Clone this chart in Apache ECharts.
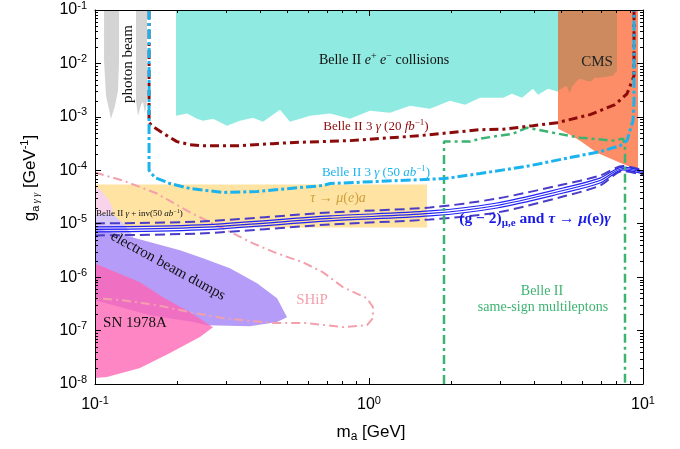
<!DOCTYPE html>
<html>
<head>
<meta charset="utf-8">
<script src="https://cdn.jsdelivr.net/npm/echarts@6/dist/echarts.min.js"></script>
<style>
  html, body { margin: 0; padding: 0; background: #fff; }
  #chart { width: 680px; height: 449px; }
</style>
</head>
<body>
<div id="chart"></div>
<script>
// m_a in GeV, g_agg in GeV^-1
var photonBeamA = [[0.1079, 0.1], [0.1079, 1.12e-2], [0.1097, 2.48e-3], [0.1144, 9.2e-4], [0.1183, 1.61e-3], [0.1213, 3.08e-3], [0.1224, 1.12e-2], [0.1224, 0.1]];
var photonBeamB = [[0.1411, 0.1], [0.1411, 2.0e-3], [0.1435, 1.05e-3], [0.1472, 1.69e-3], [0.1497, 1.92e-3], [0.1522, 1.15e-3], [0.1548, 2.0e-3], [0.1548, 0.1]];
var belleEE = [[0.1975, 0.1], [0.1975, 1.05e-3], [0.2167, 1.15e-3], [0.2357, 9.23e-4], [0.2479, 8.47e-4], [0.2696, 9.23e-4], [0.3032, 6.84e-4], [0.3381, 8.47e-4], [0.3773, 9.64e-4], [0.4104, 8.11e-4], [0.4734, 1.36e-3], [0.5148, 8.11e-4], [0.6091, 1.05e-3], [0.7209, 1.15e-3], [0.8525, 9.23e-4], [1.008, 1.30e-3], [1.193, 1.19e-3], [1.411, 1.61e-3], [1.669, 1.42e-3], [1.975, 2.0e-3], [2.241, 1.69e-3], [2.542, 2.28e-3], [3.084, 2.28e-3], [3.325, 2.70e-3], [3.617, 2.28e-3], [3.967, 3.35e-3], [4.139, 2.59e-3], [4.502, 3.35e-3], [4.896, 2.95e-3], [4.896, 0.1]];
var cms = [[4.896, 0.1], [4.896, 3.08e-3], [5.105, 3.50e-3], [5.28, 3.81e-3], [5.326, 3.21e-3], [5.415, 2.82e-3], [5.506, 3.65e-3], [5.742, 4.73e-3], [5.89, 5.15e-3], [6.407, 4.53e-3], [6.68, 5.38e-3], [6.967, 5.38e-3], [7.773, 5.86e-3], [8.037, 7.27e-3], [8.037, 0.1]];
var salmon = [[4.896, 0.1], [4.896, 6.01e-4], [5.415, 4.64e-4], [5.89, 3.59e-4], [6.794, 2.14e-4], [8.245, 1.39e-4], [9.12, 1.12e-4], [9.59, 1.0e-4], [9.59, 0.1]];
var tauMuA = [[0.1, 5.41e-5], [1.628, 5.41e-5], [1.628, 8.53e-6], [0.1, 8.53e-6]];
var belleInvPink = [[0.1, 4.97e-5], [0.1052, 4.18e-5], [0.1115, 2.96e-5], [0.1163, 1.93e-5], [0.1163, 1.49e-5], [0.1, 1.49e-5]];
var belleInvLav = [[0.1, 1.49e-5], [0.1163, 1.49e-5], [0.1255, 1.06e-5], [0.1376, 6.04e-6], [0.1376, 4.88e-6], [0.1, 4.88e-6]];
var beamDump = [[0.1, 8.16e-6], [0.1376, 5.54e-6], [0.2042, 3.17e-6], [0.2479, 2.25e-6], [0.3108, 1.46e-6], [0.3903, 7.68e-7], [0.4617, 4.03e-7], [0.5023, 1.78e-7], [0.4617, 1.44e-7], [0.3679, 1.21e-7], [0.2562, 1.26e-7], [0.2278, 1.44e-7], [0.1588, 1.94e-7], [0.1, 3.70e-7]];
var sn = [[0.1, 1.81e-6], [0.146, 8.01e-7], [0.177, 4.21e-7], [0.2222, 2.21e-7], [0.2696, 1.16e-7], [0.2416, 7.54e-8], [0.1878, 3.79e-8], [0.146, 1.99e-8], [0.1106, 1.35e-8], [0.1, 1.29e-8]];
var ship = [[0.1, 9.06e-5], [0.1265, 6.43e-5], [0.1684, 3.67e-5], [0.2222, 1.624e-5], [0.2933, 8.16e-6], [0.3773, 4.28e-6], [0.4617, 2.79e-6], [0.5741, 1.89e-6], [0.6795, 1.23e-6], [0.804, 6.46e-7], [0.9833, 4.03e-7], [1.034, 2.74e-7], [1.034, 1.71e-7], [0.9833, 1.26e-7], [0.804, 1.16e-7], [0.5939, 1.38e-7], [0.4463, 1.38e-7], [0.2933, 1.71e-7], [0.2222, 2.21e-7], [0.1684, 2.98e-7], [0.1265, 3.70e-7], [0.1, 4.03e-7]];
var belle3g20 = [[0.1575, 0.1], [0.1575, 7.78e-4], [0.1628, 6.55e-4], [0.1831, 4.45e-4], [0.1991, 3.44e-4], [0.2222, 3.02e-4], [0.2416, 2.89e-4], [0.3381, 2.89e-4], [0.4463, 3.15e-4], [0.5148, 3.29e-4], [0.8525, 3.59e-4], [1.535, 4.45e-4], [2.542, 5.75e-4], [3.084, 5.88e-4], [3.967, 6.84e-4], [4.855, 7.78e-4], [6.407, 1.10e-3], [7.905, 1.69e-3], [8.742, 2.70e-3], [9.273, 5.86e-3], [9.273, 0.1]];
var belle3g50 = [[0.1575, 0.1], [0.1575, 9.89e-5], [0.1656, 7.31e-5], [0.1878, 5.65e-5], [0.2222, 4.56e-5], [0.2933, 3.84e-5], [0.3903, 4.01e-5], [0.5148, 4.56e-5], [0.6795, 5.19e-5], [0.7209, 5.65e-5], [1.894, 7.00e-5], [2.542, 8.69e-5], [3.869, 1.22e-4], [5.415, 1.73e-4], [6.967, 2.23e-4], [8.245, 2.89e-4], [8.742, 3.59e-4], [9.193, 8.47e-4], [9.273, 2.0e-3], [9.273, 0.1]];
var sameSign = [[1.878, 1e-8], [1.878, 3.44e-4], [2.336, 3.44e-4], [2.542, 3.91e-4], [3.354, 4.84e-4], [3.773, 6.27e-4], [4.896, 4.84e-4], [5.89, 4.08e-4], [7.773, 3.59e-4], [8.453, 3.91e-4], [8.596, 2.89e-4], [8.596, 1e-8]];
// (g-2) and tau -> mu gamma band: five curves on a shared mass grid
var g2Mass = [0.1, 0.2416, 0.7209, 1.669, 2.932, 5.105, 6.967, 8.453, 10];
var g2Top = [1.012e-5, 1.103e-5, 1.624e-5, 2.012e-5, 2.963e-5, 5.41e-5, 7.96e-5, 1.20e-4, 1.0e-4];
var g2Upper = [8.71e-6, 9.49e-6, 1.397e-5, 1.732e-5, 2.443e-5, 4.654e-5, 7.15e-5, 1.15e-4, 9.6e-5];
var g2Mid = [7.82e-6, 8.52e-6, 1.255e-5, 1.555e-5, 2.194e-5, 4.18e-5, 6.43e-5, 1.08e-4, 9.1e-5];
var g2Lower = [7.02e-6, 7.65e-6, 1.127e-5, 1.397e-5, 1.971e-5, 3.755e-5, 5.77e-5, 1.02e-4, 8.6e-5];
var g2Bot = [6.04e-6, 6.58e-6, 9.69e-6, 1.202e-5, 1.624e-5, 3.23e-5, 5.18e-5, 9.7e-5, 8.2e-5];
var xRange = [0.1, 10];
var yRange = [1e-8, 0.1];
var minorMantissa = [2, 3, 4, 5, 6, 7, 8, 9];
var xDecades = [0.1, 1];
var yDecades = [1e-8, 1e-7, 1e-6, 1e-5, 1e-4, 1e-3, 1e-2];

var SERIF = 'Liberation Serif';
var SANS = 'Liberation Sans';

function zip(xs, ys) {
  return xs.map(function (x, i) { return [x, ys[i]]; });
}

function area(data, fill, z) {
  return {
    type: 'custom', silent: true, z: z, data: data,
    renderItem: function (params, api) {
      if (params.dataIndex !== 0) return null;
      var pts = data.map(function (p) { return api.coord(p); });
      return { type: 'polygon', shape: { points: pts }, style: { fill: fill, stroke: null } };
    }
  };
}

function curve(data, color, width, type, z, smooth) {
  return {
    type: 'line', data: data, symbol: 'none', silent: true, z: z, smooth: smooth || false,
    lineStyle: { color: color, width: width, type: type, cap: 'butt' }
  };
}

function minorTicks(axis) {
  var items = [];
  var decades = axis === 'x' ? xDecades : yDecades;
  decades.forEach(function (d) {
    minorMantissa.forEach(function (k) {
      var v = +(k * d).toPrecision(3);
      items.push(axis === 'x' ? [v, yRange[0]] : [xRange[0], v]);
    });
  });
  return {
    type: 'custom', silent: true, z: 30, data: items,
    renderItem: function (params, api) {
      var s = { stroke: '#000', lineWidth: 1 };
      if (axis === 'x') {
        var v = api.value(0);
        var b = api.coord([v, yRange[0]]), t = api.coord([v, yRange[1]]);
        var x = Math.round(b[0]) + 0.5;
        return { type: 'group', children: [
          { type: 'line', shape: { x1: x, y1: b[1], x2: x, y2: b[1] - 3 }, style: s },
          { type: 'line', shape: { x1: x, y1: t[1], x2: x, y2: t[1] + 3 }, style: s }
        ] };
      }
      var w = api.value(1);
      var l = api.coord([xRange[0], w]), r = api.coord([xRange[1], w]);
      var y = Math.round(l[1]) + 0.5;
      return { type: 'group', children: [
        { type: 'line', shape: { x1: l[0], y1: y, x2: l[0] + 3, y2: y }, style: s },
        { type: 'line', shape: { x1: r[0], y1: y, x2: r[0] - 3, y2: y }, style: s }
      ] };
    }
  };
}

function expLabel(v) {
  return '{b|10}{s|' + Math.round(Math.log10(v)) + '}';
}
var tickRich = {
  b: { fontFamily: SANS, fontSize: 16, color: '#000', lineHeight: 20 },
  s: { fontFamily: SANS, fontSize: 11, color: '#000', lineHeight: 12, verticalAlign: 'top' }
};

function logAxis(range, pos, show) {
  return {
    type: 'log', logBase: 10, min: range[0], max: range[1], position: pos, z: 20,
    axisLine: { show: true, onZero: false, lineStyle: { color: '#000', width: 1 } },
    axisTick: { show: true, inside: true, length: 6, lineStyle: { color: '#000' } },
    splitLine: { show: false },
    axisLabel: show ? { show: true, formatter: expLabel, rich: tickRich, margin: pos === 'bottom' ? 11 : 8 } : { show: false }
  };
}

function rich(size, color, weight) {
  var f = { fontFamily: SERIF, fontSize: size, fill: color, color: color, fontWeight: weight || 'normal', lineHeight: Math.round(size * 1.3) };
  return {
    t: f,
    i: Object.assign({}, f, { fontStyle: 'italic' }),
    p: Object.assign({}, f, { fontSize: Math.round(size * 0.68), lineHeight: Math.round(size * 0.68), verticalAlign: 'top' }),
    d: Object.assign({}, f, { fontSize: Math.round(size * 0.7), lineHeight: Math.round(size * 0.7), verticalAlign: 'bottom' })
  };
}

function label(x, y, text, size, color, extra) {
  var st = { text: text, rich: rich(size, color, extra && extra.weight), align: (extra && extra.align) || 'center', verticalAlign: 'middle',
             fontFamily: SERIF, fontSize: size, fill: color };
  return { type: 'text', x: x, y: y, rotation: (extra && extra.rotation) || 0, z: 100, silent: true, style: st };
}

var chart = echarts.init(document.getElementById('chart'), null, { renderer: 'canvas' });
chart.setOption({
  animation: false,
  backgroundColor: '#fff',
  grid: { left: 95, right: 37, top: 9, bottom: 65, containLabel: false },
  xAxis: [logAxis(xRange, 'bottom', true), logAxis(xRange, 'top', false)],
  yAxis: [logAxis(yRange, 'left', true), logAxis(yRange, 'right', false)],
  series: [
    area(tauMuA, '#fee3a2', 1),
    area(photonBeamA, '#d4d4d4', 1),
    area(photonBeamB, '#d4d4d4', 1),
    area(belleEE, '#8feae1', 1),
    area(salmon, '#fd8d66', 2),
    area(cms, '#cd8a5e', 3),
    area(belleInvPink, '#f8d4ea', 2),
    area(belleInvLav, '#d9c9fb', 2),
    area(beamDump, '#b59cf8', 3),
    area(sn, 'rgba(255,100,180,0.78)', 4),
    curve(ship, '#f4a0ac', 2, [9, 4, 2, 4], 5),
    curve(zip(g2Mass, g2Top), '#4a3cc6', 2, [10, 5], 6, 0.3),
    curve(zip(g2Mass, g2Bot), '#4a3cc6', 2, [10, 5], 6, 0.3),
    curve(zip(g2Mass, g2Upper), '#2323f5', 1.2, 'solid', 6, 0.3),
    curve(zip(g2Mass, g2Mid), '#2323f5', 1.2, 'solid', 6, 0.3),
    curve(zip(g2Mass, g2Lower), '#2323f5', 1.2, 'solid', 6, 0.3),
    curve(sameSign, '#3cb371', 2.5, [9, 4, 3, 4], 7),
    curve(belle3g20, '#8b0a0a', 3, [9, 4, 3, 4], 7),
    curve(belle3g50, '#1ab3ee', 3, [10, 3, 3, 3], 8),
    minorTicks('x'),
    minorTicks('y')
  ],
  graphic: [
    label(128, 64, 'photon beam', 15, '#111', { rotation: Math.PI / 2 }),
    label(384, 60, '{t|Belle II }{i|e}{p|+}{t| }{i|e}{p|−}{t| collisions}', 14, '#111'),
    label(597, 62, 'CMS', 15, '#222'),
    label(376, 127, '{t|Belle II 3 }{i|γ}{t| (20 }{i|fb}{p|−1}{t|)}', 13, '#8b0a0a'),
    label(376, 173, '{t|Belle II 3 }{i|γ}{t| (50 }{i|ab}{p|−1}{t|)}', 13, '#1ab3ee'),
    label(338, 198, '{i|τ}{t| → }{i|μ}{t|(}{i|e}{t|)}{i|a}', 14, '#cfa03c'),
    label(96, 214, '{t|Belle II }{i|γ}{t| + inv(50 }{i|ab}{p|−1}{t|)}', 9, '#111', { align: 'left' }),
    label(535, 219, '{t|(g − 2)}{d|μ,e}{t| and }{i|τ}{t| → }{i|μ}{t|(e)}{i|γ}', 15.5, '#1a1ae6', { weight: 'bold' }),
    label(168, 266, 'electron beam dumps', 15, '#111', { rotation: -0.5 }),
    label(135, 323, 'SN 1978A', 15, '#111'),
    label(312, 300, 'SHiP', 15, '#f4a0ac'),
    label(542, 291, 'Belle II', 14, '#3cb371'),
    label(543, 307, 'same-sign multileptons', 14, '#3cb371'),
    { type: 'text', x: 371, y: 432, z: 100, silent: true, style: {
        text: '{g|m}{d|a}{g| [GeV]}', align: 'center', verticalAlign: 'middle',
        rich: { g: { fontFamily: SANS, fontSize: 17, fill: '#000', lineHeight: 22 },
                d: { fontFamily: SANS, fontSize: 12, fill: '#000', lineHeight: 12, verticalAlign: 'bottom' } } } },
    { type: 'text', x: 30, y: 178, rotation: Math.PI / 2, z: 100, silent: true, style: {
        text: '{g|g}{d|a}{e| γ γ}{g| [GeV}{p|-1}{g|]}', align: 'center', verticalAlign: 'middle',
        rich: { g: { fontFamily: SANS, fontSize: 17, fill: '#000', lineHeight: 22 },
                d: { fontFamily: SANS, fontSize: 11, fill: '#000', lineHeight: 11, verticalAlign: 'bottom' },
                e: { fontFamily: SERIF, fontStyle: 'italic', fontSize: 10, fill: '#000', lineHeight: 11, verticalAlign: 'bottom' },
                p: { fontFamily: SANS, fontSize: 11, fill: '#000', lineHeight: 11, verticalAlign: 'top' } } } }
  ]
});
</script>
</body>
</html>
